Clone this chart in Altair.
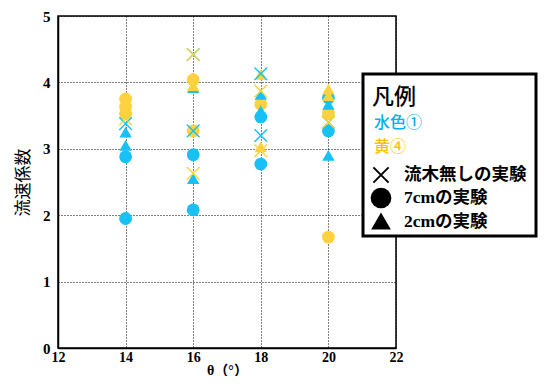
import altair as alt
import pandas as pd

# ---- data ----
cyan_x_theta = [14, 16, 16, 18, 18, 20]
cyan_x_val = [3.38, 4.42, 3.27, 4.13, 3.20, 3.40]
yellow_x_theta = [14, 16, 16, 18, 18, 20]
yellow_x_val = [3.45, 4.42, 2.63, 3.87, 2.97, 3.40]

cyan_circle_theta = [14, 14, 16, 16, 18, 18, 20, 20]
cyan_circle_val = [2.88, 1.95, 2.91, 2.08, 3.48, 2.77, 3.77, 3.27]
yellow_circle_theta = [14, 14, 14, 16, 16, 18, 20, 20]
yellow_circle_val = [3.75, 3.63, 3.53, 4.04, 3.27, 3.67, 3.53, 1.67]

cyan_tri_theta = [14, 14, 16, 16, 18, 18, 20, 20]
cyan_tri_val = [3.25, 3.05, 3.92, 2.55, 3.82, 3.57, 3.67, 2.90]
yellow_tri_theta = [16, 18, 18, 20, 20]
yellow_tri_val = [3.95, 4.12, 3.03, 3.90, 3.80]

series_names = ["水色①", "黄④"]
marker_colors = ["#17C1F5", "#FDD23E"]
legend_text_colors = ["#00B0F0", "#FFC000"]
legend_title = "凡例"
legend_items = ["流木無しの実験", "7cmの実験", "2cmの実験"]

x_ticks = [12, 14, 16, 18, 20, 22]
y_ticks = [0, 1, 2, 3, 4, 5]


def frame(thetas, vals, series):
    return pd.DataFrame({"theta": thetas, "value": vals, "series": series})


df_x = pd.concat([frame(cyan_x_theta, cyan_x_val, series_names[0]),
                  frame(yellow_x_theta, yellow_x_val, series_names[1])])
df_c = pd.concat([frame(cyan_circle_theta, cyan_circle_val, series_names[0]),
                  frame(yellow_circle_theta, yellow_circle_val, series_names[1])])
df_t = pd.concat([frame(cyan_tri_theta, cyan_tri_val, series_names[0]),
                  frame(yellow_tri_theta, yellow_tri_val, series_names[1])])

color = alt.Color("series:N", scale=alt.Scale(domain=series_names, range=marker_colors), legend=None)
xenc = alt.X("theta:Q", scale=alt.Scale(domain=[12, 22], nice=False),
             axis=alt.Axis(values=x_ticks, title="θ（°）", format="d"))
yenc = alt.Y("value:Q", scale=alt.Scale(domain=[0, 5], nice=False),
             axis=alt.Axis(values=y_ticks, title="流速係数", format="d"))

XPATH = "M-1,-1L1,1M-1,1L1,-1"

circles = alt.Chart(df_c).mark_point(filled=True, shape="circle", size=165, opacity=1).encode(
    x=xenc, y=yenc, color=color)
tris = alt.Chart(df_t).mark_point(filled=True, shape="triangle-up", size=155, opacity=1).encode(
    x=xenc, y=yenc, color=color)
xs = alt.Chart(df_x).mark_point(filled=False, shape=XPATH, size=160, strokeWidth=1.4, opacity=1).encode(
    x=xenc, y=yenc, color=color)

one = pd.DataFrame({"a": [0]})
box = alt.Chart(one).mark_rect(fill="white", stroke="black", strokeWidth=3).encode(
    x=alt.value(305), x2=alt.value(478), y=alt.value(58), y2=alt.value(220))

CJK = "Noto Sans CJK JP"
MIX = "Liberation Serif, Noto Sans CJK JP"

def txt(s, x, y, size, col="black", weight="normal", font=CJK):
    return alt.Chart(pd.DataFrame({"t": [s]})).mark_text(
        align="left", baseline="middle", fontSize=size, color=col, fontWeight=weight, font=font
    ).encode(text="t:N", x=alt.value(x), y=alt.value(y))

leg_title = txt(legend_title, 314, 81, 22, "black", 500)
leg_s1 = txt(series_names[0], 316, 107, 16, legend_text_colors[0], 500)
leg_s2 = txt(series_names[1], 316, 131, 16, legend_text_colors[1], 500)
leg_t1 = txt(legend_items[0], 346, 159, 17.5, "black", "bold", MIX)
leg_t2 = txt(legend_items[1], 346, 182, 17.5, "black", "bold", MIX)
leg_t3 = txt(legend_items[2], 346, 206, 17.5, "black", "bold", MIX)

sym_x = alt.Chart(one).mark_point(shape=XPATH, filled=False, size=230, strokeWidth=2, color="black", opacity=1).encode(
    x=alt.value(323), y=alt.value(159))
sym_c = alt.Chart(one).mark_point(shape="circle", filled=True, size=430, color="black", opacity=1).encode(
    x=alt.value(323), y=alt.value(182))
sym_t = alt.Chart(one).mark_point(shape="triangle-up", filled=True, size=390, color="black", opacity=1).encode(
    x=alt.value(323), y=alt.value(205))

chart = alt.layer(
    circles, tris, xs, box, leg_title, leg_s1, leg_s2, leg_t1, leg_t2, leg_t3, sym_x, sym_c, sym_t
).properties(
    width=338, height=332,
    autosize=alt.AutoSizeParams(type="none"),
    padding={"left": 50, "top": 8, "right": 143, "bottom": 28},
).configure_view(
    stroke="black", strokeWidth=1.5
).configure_axis(
    grid=True, gridColor="black", gridDash=[1, 2], gridWidth=1, gridOpacity=1,
    domain=True, domainColor="black", domainWidth=1.5,
    ticks=False, labelFlush=False,
    labelFont="Liberation Serif", labelFontWeight="bold", labelFontSize=15, labelColor="black",
    titleColor="black",
).configure_axisY(
    labelPadding=8, titleFont=CJK, titleFontSize=17, titleFontWeight="normal", titlePadding=10,
).configure_axisX(
    labelPadding=2, labelFontSize=14, titleFont="Liberation Serif, Noto Sans CJK JP", titleFontSize=14,
    titleFontWeight="bold", titlePadding=-1,
)

chart.save("out.html", embed_options={"renderer": "svg", "actions": False})
